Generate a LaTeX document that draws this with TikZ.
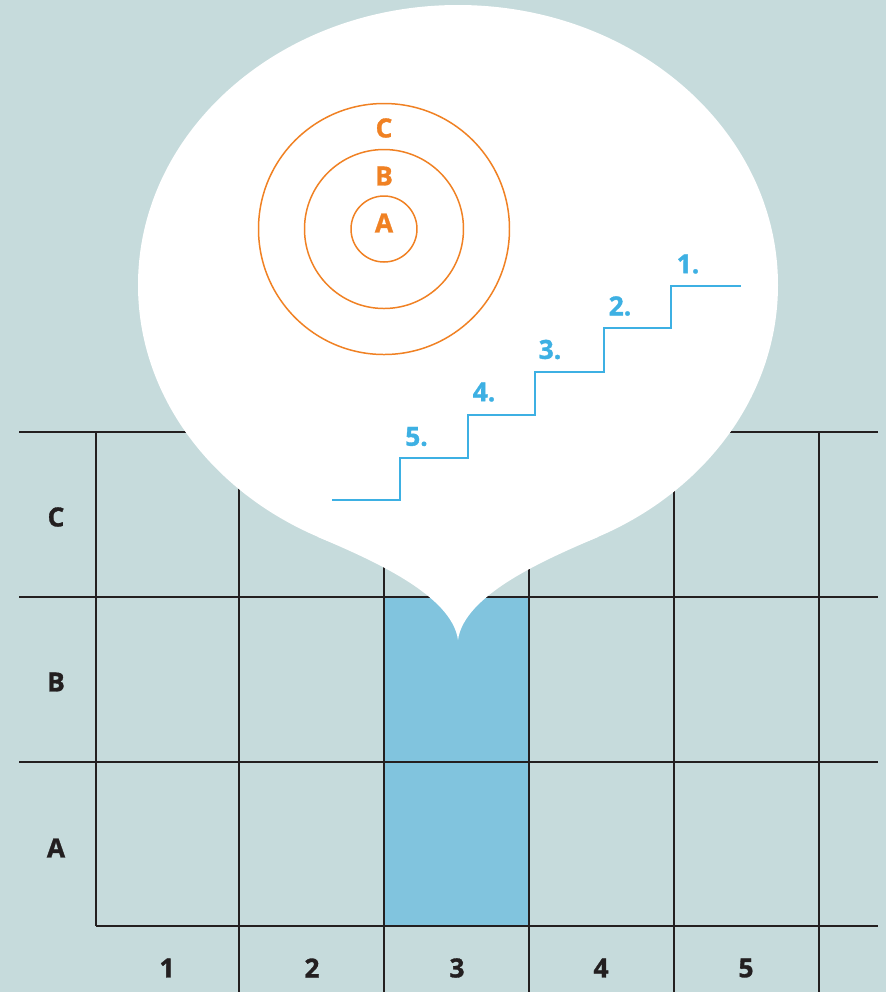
\documentclass[tikz,border=0pt]{standalone}
\usepackage{fontspec}
\setmainfont{Open Sans}[BoldFeatures={FakeBold=1.2}]
\definecolor{bgc}{HTML}{C6DBDC}
\definecolor{colfill}{HTML}{81C4DE}
\definecolor{stairc}{HTML}{3DB0E3}
\definecolor{orangec}{HTML}{F08123}
\definecolor{inkc}{HTML}{231F20}
\begin{document}
\begin{tikzpicture}[x=0.02cm,y=-0.02cm,
  gridline/.style={draw=inkc,line width=0.85pt},
  gridlabel/.style={text=inkc,font=\fontsize{15}{18}\selectfont\bfseries,inner sep=0pt,anchor=center},
  ringline/.style={draw=orangec,line width=0.85pt},
  ringlabel/.style={text=orangec,font=\fontsize{15}{18}\selectfont\bfseries,inner sep=0pt,anchor=center},
  stairline/.style={draw=stairc,line width=0.9pt},
  stairlabel/.style={text=stairc,font=\fontsize{15}{18}\selectfont\bfseries,inner sep=0pt,anchor=center}]
\fill[bgc] (0,0) rectangle (886,992);
\useasboundingbox (0,0) rectangle (886,992);
% highlighted column
\fill[colfill] (384,597) rectangle (529,926);
% grid
\foreach \yy in {432,597,762} \draw[gridline] (19,\yy) -- (878,\yy);
\draw[gridline] (96,926) -- (878,926);
\draw[gridline] (96,432) -- (96,926);
\foreach \xx in {239,384,529,674,819} \draw[gridline] (\xx,432) -- (\xx,992);
% labels
\node[gridlabel] (rc) at (56,517) {C};
\node[gridlabel] (rb) at (56,682) {B};
\node[gridlabel] (ra) at (56,848) {A};
\node[gridlabel] (c1) at (167,968) {1};
\node[gridlabel] (c2) at (312,968) {2};
\node[gridlabel] (c3) at (457,968) {3};
\node[gridlabel] (c4) at (601,968) {4};
\node[gridlabel] (c5) at (746,968) {5};
% speech bubble
\fill[white] (458,285) ellipse [x radius=320, y radius=280];
\fill[white] (318,537) .. controls (372,560) and (452,595) .. (458,640)
  .. controls (464,595) and (544,560) .. (598,537) -- (458,400) -- cycle;
% rings
\draw[ringline] (384,229) circle [radius=33];
\draw[ringline] (384,229) circle [radius=79.5];
\draw[ringline] (384,229) circle [radius=125.5];
\node[ringlabel] (la) at (384,223) {A};
\node[ringlabel] (lb) at (384,176) {B};
\node[ringlabel] (lc) at (384,128) {C};
% stairs
\draw[stairline] (332,500) -- (400,500) -- (400,458) -- (468,458) -- (468,415)
  -- (535,415) -- (535,372) -- (604,372) -- (604,328) -- (671,328) -- (671,286) -- (741,286);
\node[stairlabel] (s1) at (688,264) {1.};
\node[stairlabel] (s2) at (620,306) {2.};
\node[stairlabel] (s3) at (550,349.5) {3.};
\node[stairlabel] (s4) at (484,392) {4.};
\node[stairlabel] (s5) at (416.5,436.5) {5.};
\end{tikzpicture}
\end{document}
